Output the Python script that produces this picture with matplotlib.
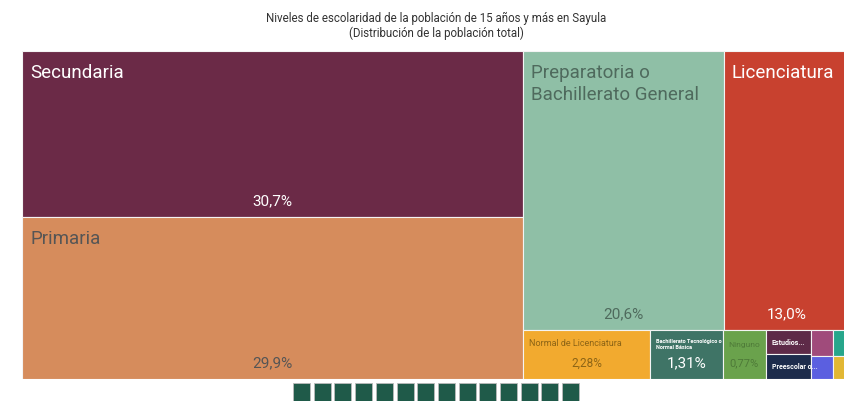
import matplotlib.pyplot as plt
from matplotlib.patches import Rectangle

plt.rcParams['font.family'] = ['Roboto', 'DejaVu Sans']

# data (percent of population 15+)
categories = ['Secundaria', 'Primaria', 'Preparatoria o\nBachillerato General', 'Licenciatura',
              'Normal de Licenciatura', 'Bachillerato Tecnológico o\nNormal Básica', 'Ninguno',
              'Estudios...', 'Preescolar o...', 'otro 1', 'otro 2', 'otro 3', 'otro 4']
values = [30.7, 29.9, 20.6, 13.0, 2.28, 1.31, 0.77, 0.40, 0.41, 0.21, 0.16, 0.19, 0.15]
pct_labels = ['30,7%', '29,9%', '20,6%', '13,0%', '2,28%', '1,31%', '0,77%', '', '', '', '', '', '']
n_legend = 14

colors = ['#6b2a47', '#d68c5c', '#8fbfa6', '#c8412f', '#f2aa2f', '#3f7466', '#6aa24c',
          '#5e2a48', '#1d2c4c', '#a04b7b', '#27a68b', '#5b5fe0', '#e2b734']
name_colors = ['white', '#555555', '#4f6a5d', 'white', '#8c6416', 'white', '#4e7a38',
               'white', 'white', 'white', 'white', 'white', 'white']
pct_colors = ['white', '#555555', '#4f6a5d', 'white', '#8c6416', 'white', '#4e7a38',
              'white', 'white', 'white', 'white', 'white', 'white']
name_sizes = [13.5, 13.5, 13.5, 13.5, 6.5, 4, 6, 5, 5, 0, 0, 0, 0]
pct_sizes = [11, 11, 11, 11, 8.5, 11, 8, 0, 0, 0, 0, 0, 0]

# nesting of the tiles (alternating horizontal / vertical slices)
structure = [[0, 1], [[2, 3], [4, 5, 6, [7, 8], [[9, 10], [11, 12]]]]]


def total(node):
    if isinstance(node, int):
        return values[node]
    return sum(total(c) for c in node)


def layout(node, x, y, w, h, horizontal, out):
    if isinstance(node, int):
        out[node] = (x, y, w, h)
        return
    t = total(node)
    pos = 0
    for c in node:
        f = total(c) / t
        if horizontal:
            layout(c, x + pos, y, w * f, h, not horizontal, out)
            pos += w * f
        else:
            layout(c, x, y + pos, w, h * f, not horizontal, out)
            pos += h * f


W, H = 828, 328
rects = {}
layout(structure, 0, 0, W, H, True, rects)

fig = plt.figure(figsize=(8.44, 4.02), dpi=100)
ax = fig.add_axes([22 / 844, 22 / 402, W / 844, H / 402])
ax.set_xlim(0, W)
ax.set_ylim(H, 0)
ax.axis('off')

for i in range(len(values)):
    x, y, w, h = rects[i]
    ax.add_patch(Rectangle((x, y), w, h, facecolor=colors[i], edgecolor='#f4f4f4', linewidth=0.8))
    if name_sizes[i] >= 10:
        ax.text(x + 8, y + 12, categories[i], color=name_colors[i], fontsize=name_sizes[i],
                ha='left', va='top', linespacing=1.3)
    elif i == 6:
        ax.text(x + w / 2, y + 14, categories[i], color=name_colors[i], fontsize=name_sizes[i],
                ha='center', va='center')
    elif name_sizes[i] > 0:
        ax.text(x + 6, y + 8, categories[i], color=name_colors[i], fontsize=name_sizes[i],
                ha='left', va='top', fontweight='bold' if i != 4 else 'normal')
    if pct_labels[i]:
        ax.text(x + w / 2, y + h - 17, pct_labels[i], color=pct_colors[i], fontsize=pct_sizes[i],
                ha='center', va='center')

fig.text(436 / 844, 1 - 18 / 402, 'Niveles de escolaridad de la población de 15 años y más en Sayula',
         ha='center', va='center', fontsize=8.3, color='#333333')
fig.text(436 / 844, 1 - 33 / 402, '(Distribución de la población total)',
         ha='center', va='center', fontsize=8.3, color='#333333')

# pager squares below the treemap
for k in range(n_legend):
    fig.add_artist(Rectangle(((293 + k * 20.7) / 844, 0), 17 / 844, 18 / 402,
                             transform=fig.transFigure, facecolor='#1f5a49',
                             edgecolor='#bbbbbb', linewidth=0.6))

fig.savefig('out.png', dpi=100)
